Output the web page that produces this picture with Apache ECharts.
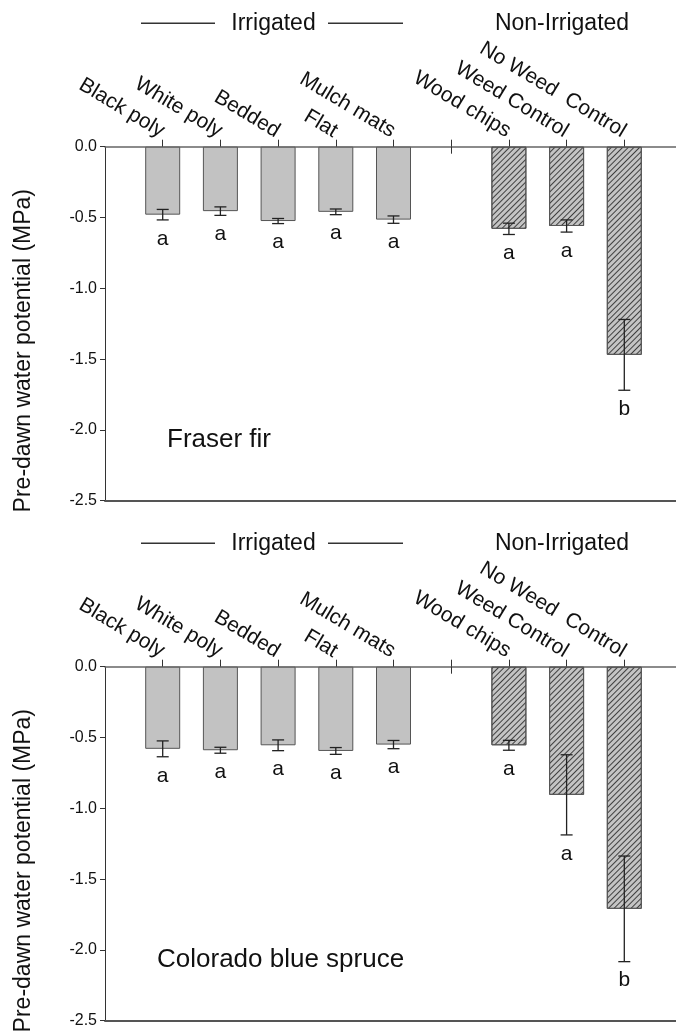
<!DOCTYPE html>
<html>
<head>
<meta charset="utf-8">
<script src="https://cdn.jsdelivr.net/npm/echarts@6/dist/echarts.min.js"></script>
<style>
  html, body { margin: 0; padding: 0; background: #fff; }
  #chart { width: 676px; height: 1034px; }
</style>
</head>
<body>
<div id="chart"></div>
<script>
// treatment names, in axis order (slot 6 is the gap between the two groups)
const treatments = ["Black poly", "White poly", "Bedded", "Flat", "Mulch mats", "", "Wood chips", "Weed Control", "No Weed  Control"];
const irrigatedX = [1, 2, 3, 4, 5];
const nonIrrigatedX = [7, 8, 9];
const separatorX = [6];
const labelX = [1, 2, 3, 4, 5, 6, 7, 8, 9];

// Fraser fir
const firIrrigated = [-0.48, -0.455, -0.525, -0.46, -0.515];
const firIrrigatedSE = [0.037, 0.03, 0.018, 0.02, 0.026];
const firNonIrrigated = [-0.58, -0.56, -1.47];
const firNonIrrigatedSE = [0.04, 0.043, 0.25];
const firLetters = ["a", "a", "a", "a", "a", "a", "a", "b"];

// Colorado blue spruce
const spruceIrrigated = [-0.58, -0.59, -0.555, -0.595, -0.55];
const spruceIrrigatedSE = [0.056, 0.021, 0.038, 0.024, 0.029];
const spruceNonIrrigated = [-0.555, -0.905, -1.71];
const spruceNonIrrigatedSE = [0.035, 0.283, 0.373];
const spruceLetters = ["a", "a", "a", "a", "a", "a", "a", "b"];

const FONT = '"Liberation Sans", Arial, Helvetica, sans-serif';
const AXIS_DARK = "#333";
const PANEL_TOP = [146.7, 666.7];
const PANEL_H = 354;

const chart = echarts.init(document.getElementById("chart"), null, { renderer: "canvas" });

function pairs(xs, ys) {
  return xs.map((x, i) => [x, ys[i]]);
}

function errorBars(letters) {
  return function (params, api) {
    const x = api.value(0);
    const m = api.value(1);
    const se = api.value(2);
    const top = api.coord([x, m + se]);
    const bot = api.coord([x, m - se]);
    const cap = 6;
    const style = { stroke: "#222", lineWidth: 1.3 };
    return {
      type: "group",
      children: [
        { type: "line", shape: { x1: top[0], y1: top[1], x2: bot[0], y2: bot[1] }, style },
        { type: "line", shape: { x1: top[0] - cap, y1: top[1], x2: top[0] + cap, y2: top[1] }, style },
        { type: "line", shape: { x1: bot[0] - cap, y1: bot[1], x2: bot[0] + cap, y2: bot[1] }, style },
        {
          type: "text",
          x: bot[0],
          y: bot[1] + 19,
          style: {
            text: letters[params.dataIndex],
            font: "21px " + FONT,
            fill: "#111",
            textAlign: "center",
            textVerticalAlign: "middle",
          },
        },
      ],
    };
  };
}

const grids = [];
const xAxes = [];
const yAxes = [];
const series = [];
const graphics = [];

const panels = [
  { title: "Fraser fir", titleX: 167, irr: firIrrigated, irrSE: firIrrigatedSE, non: firNonIrrigated, nonSE: firNonIrrigatedSE, letters: firLetters },
  { title: "Colorado blue spruce", titleX: 157, irr: spruceIrrigated, irrSE: spruceIrrigatedSE, non: spruceNonIrrigated, nonSE: spruceNonIrrigatedSE, letters: spruceLetters },
];

panels.forEach((p, i) => {
  const top = PANEL_TOP[i];
  grids.push({ left: 105, top: top, width: 577, height: PANEL_H, containLabel: false, outerBoundsMode: "none" });

  const base = { type: "value", gridIndex: i, min: 0, max: 10, splitLine: { show: false } };
  // top axis: ticks and rotated treatment labels
  xAxes.push({
    ...base,
    position: "top",
    axisLine: { show: true, onZero: false, lineStyle: { color: "#666", width: 1.5 } },
    axisTick: { show: true, customValues: labelX, length: 7, lineStyle: { color: AXIS_DARK, width: 1 } },
    axisLabel: {
      show: true,
      customValues: labelX,
      rotate: 31,
      align: "right",
      verticalAlign: "middle",
      margin: 14,
      fontSize: 21,
      fontFamily: FONT,
      color: "#111",
      hideOverlap: false,
      formatter: (v) => treatments[Math.round(v) - 1] || "",
    },
  });
  // separator tick between the groups, pointing into the plot
  xAxes.push({
    ...base,
    position: "top",
    axisLine: { show: false },
    axisTick: { show: true, inside: true, customValues: separatorX, length: 7, lineStyle: { color: AXIS_DARK, width: 1 } },
    axisLabel: { show: false },
  });
  // bottom frame line
  xAxes.push({
    ...base,
    position: "bottom",
    axisLine: { show: true, onZero: false, lineStyle: { color: "#555", width: 2 } },
    axisTick: { show: false },
    axisLabel: { show: false },
  });

  yAxes.push({
    type: "value",
    gridIndex: i,
    min: -2.5,
    max: 0,
    interval: 0.5,
    splitLine: { show: false },
    axisLine: { show: true, onZero: false, lineStyle: { color: AXIS_DARK, width: 1 } },
    axisTick: { show: true, length: 5, lineStyle: { color: AXIS_DARK } },
    axisLabel: {
      margin: 8,
      fontSize: 16,
      fontFamily: FONT,
      color: "#111",
      formatter: (v) => v.toFixed(1),
    },
  });

  series.push({
    type: "bar",
    xAxisIndex: i * 3,
    yAxisIndex: i,
    barWidth: 35,
    barGap: "-100%",
    data: pairs(irrigatedX, p.irr),
    itemStyle: { color: "#c2c2c2", borderColor: "#555", borderWidth: 1 },
    z: 2,
  });
  series.push({
    type: "bar",
    xAxisIndex: i * 3,
    yAxisIndex: i,
    barWidth: 35,
    barGap: "-100%",
    data: pairs(nonIrrigatedX, p.non),
    itemStyle: {
      color: "#c4c4c4",
      borderColor: "#555",
      borderWidth: 1,
      decal: {
        symbol: "rect",
        symbolSize: 1,
        dashArrayX: [1, 0],
        dashArrayY: [1, 2.6],
        rotation: -Math.PI / 4,
        color: "rgba(40,40,40,0.85)",
      },
    },
    z: 2,
  });
  const xs = irrigatedX.concat(nonIrrigatedX);
  const means = p.irr.concat(p.non);
  const ses = p.irrSE.concat(p.nonSE);
  series.push({
    type: "custom",
    xAxisIndex: i * 3,
    yAxisIndex: i,
    data: xs.map((x, k) => [x, means[k], ses[k]]),
    renderItem: errorBars(p.letters),
    z: 5,
  });

  // group headers
  const hy = top - 123.5;
  const lineStyle = { stroke: "#333", lineWidth: 1.5 };
  graphics.push(
    { type: "line", shape: { x1: 141, y1: hy, x2: 215, y2: hy }, style: lineStyle },
    { type: "line", shape: { x1: 328, y1: hy, x2: 403, y2: hy }, style: lineStyle },
    { type: "text", x: 273.5, y: hy, style: { text: "Irrigated", font: "23px " + FONT, fill: "#111", textAlign: "center", textVerticalAlign: "middle" } },
    { type: "text", x: 562, y: hy, style: { text: "Non-Irrigated", font: "23px " + FONT, fill: "#111", textAlign: "center", textVerticalAlign: "middle" } },
    { type: "text", x: p.titleX, y: top + 293, style: { text: p.title, font: "26px " + FONT, fill: "#111", textAlign: "left", textVerticalAlign: "middle" } },
    {
      type: "text",
      x: 24,
      y: top + 204,
      rotation: Math.PI / 2,
      style: { text: "Pre-dawn water potential (MPa)", font: "23px " + FONT, fill: "#111", textAlign: "center", textVerticalAlign: "middle" },
    }
  );
});

chart.setOption({
  animation: false,
  backgroundColor: "#fff",
  textStyle: { fontFamily: FONT },
  grid: grids,
  xAxis: xAxes,
  yAxis: yAxes,
  series: series,
  graphic: graphics,
});
</script>
</body>
</html>
